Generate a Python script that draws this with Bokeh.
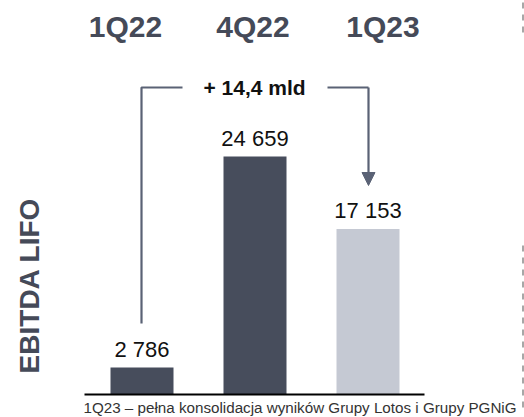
import math
from bokeh.plotting import figure
from bokeh.models import Range1d, Arrow, NormalHead, ColumnDataSource
from bokeh.core.properties import value
from bokeh.embed import file_html
from bokeh.resources import INLINE

# ---- data ----
quarters = ["1Q22", "4Q22", "1Q23"]
ebitda = [2786, 24659, 17153]
value_labels = ["2 786", "24 659", "17 153"]
bar_colors = ["#474d5c", "#474d5c", "#c5c9d3"]
delta_label = "+ 14,4 mld"
side_title = "EBITDA LIFO"
footnote = "1Q23 \u2013 pe\u0142na konsolidacja wynik\u00f3w Grupy Lotos i Grupy PGNiG"

# ---- layout constants (picture pixels) ----
ORIGIN = 0
W, H = 524, 417
BASE_PX = 394.0
PX_PER_CAT = 113.0
FIRST_CENTER = 141.5
UNITS_PER_PX = 24659 / 238.0
LABEL_GAP_PX = 18  # from bar top to label centre

def px2x(px):
    return (px - FIRST_CENTER) / PX_PER_CAT

def px2y(py):
    return (BASE_PX - py) * UNITS_PER_PX

p = figure(width=W, height=H, output_backend="svg", toolbar_location=None,
           x_range=Range1d(px2x(ORIGIN), px2x(ORIGIN + W)),
           y_range=Range1d(px2y(ORIGIN + H), px2y(ORIGIN)),
           min_border=0)
p.axis.visible = False
p.grid.visible = False
p.outline_line_color = None
p.background_fill_color = "white"
p.border_fill_color = "white"

FONT = value("Liberation Sans")

xs = list(range(len(quarters)))
label_y = [v + LABEL_GAP_PX * UNITS_PER_PX for v in ebitda]
src = ColumnDataSource(dict(x=xs, top=ebitda, color=bar_colors,
                            lab=value_labels, ly=label_y))
p.vbar(x="x", top="top", bottom=0, width=63 / PX_PER_CAT, color="color",
       line_color=None, source=src)

p.text(x="x", y="ly", text="lab", source=src, text_align="center",
       text_baseline="middle", text_font=FONT,
       text_font_size="22px", text_color="#111111")

# baseline
p.segment(x0=[px2x(84)], y0=[0], x1=[px2x(424)], y1=[0], line_color="black",
          line_width=2)

# header quarter labels
hdr_px = [125, 252.5, 382.5]
p.text(x=[px2x(v) for v in hdr_px], y=[px2y(26)] * 3, text=quarters,
       text_align="center", text_baseline="middle",
       text_font=FONT, text_font_style="bold",
       text_font_size="30px", text_color="#454a58")

# bracket
BR = "#5a6275"
p.line(x=[px2x(141), px2x(141), px2x(182)],
       y=[px2y(323), px2y(87), px2y(87)], line_color=BR, line_width=2.2)
p.line(x=[px2x(327), px2x(368)], y=[px2y(87), px2y(87)], line_color=BR,
       line_width=2.2)
p.add_layout(Arrow(end=NormalHead(size=13, fill_color=BR, line_color=BR),
                   x_start=px2x(368), y_start=px2y(87),
                   x_end=px2x(368), y_end=px2y(185),
                   line_color=BR, line_width=2.2))
p.text(x=[px2x(254)], y=[px2y(87)], text=[delta_label], text_align="center",
       text_baseline="middle", text_font=FONT,
       text_font_style="bold", text_font_size="21px", text_color="#111111")

# side title
p.text(x=[px2x(29)], y=[px2y(285)], text=[side_title], angle=math.pi / 2,
       text_align="center", text_baseline="middle",
       text_font=FONT, text_font_style="bold",
       text_font_size="28px", text_color="#454a58")

# footnote
p.text(x=[px2x(83)], y=[px2y(407)], text=[footnote], text_align="left",
       text_baseline="middle", text_font=FONT, text_font_size="15.2px",
       text_color="#333333")

# dashed separator on the right
DS = "#8a8a8a"
p.segment(x0=[px2x(522.5)] * 2, y0=[px2y(2), px2y(245)],
          x1=[px2x(522.5)] * 2, y1=[px2y(34), px2y(409)],
          line_color=DS, line_width=1.5, line_dash="6 6")

open("out.html", "w").write(file_html(p, INLINE))
